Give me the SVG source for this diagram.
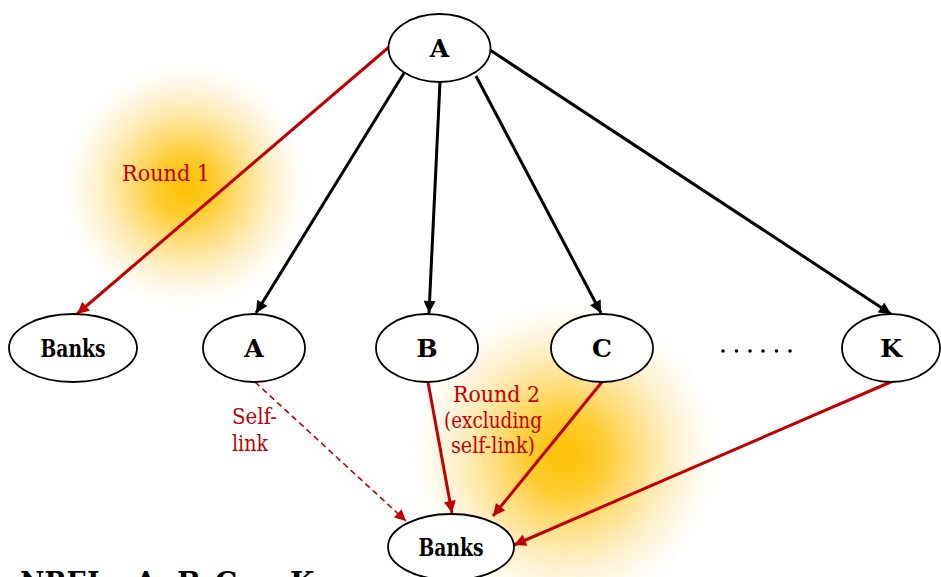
<svg xmlns="http://www.w3.org/2000/svg" width="941" height="577" viewBox="0 0 941 577">
<defs>
<radialGradient id="glow">
<stop offset="0" stop-color="#FFC000" stop-opacity="1"/>
<stop offset="0.25" stop-color="#FFC000" stop-opacity="0.8"/>
<stop offset="0.55" stop-color="#FFC830" stop-opacity="0.45"/>
<stop offset="0.8" stop-color="#FFDA80" stop-opacity="0.2"/>
<stop offset="1" stop-color="#FFFFFF" stop-opacity="0"/>
</radialGradient>
<marker id="ab" viewBox="0 0 10 10" refX="10" refY="5" markerWidth="4.5" markerHeight="4" orient="auto" markerUnits="strokeWidth"><path d="M0,0 L10,5 L0,10 z" fill="#000"/></marker>
<marker id="ar" viewBox="0 0 10 10" refX="10" refY="5" markerWidth="4.5" markerHeight="4" orient="auto" markerUnits="strokeWidth"><path d="M0,0 L10,5 L0,10 z" fill="#C00000"/></marker>
<marker id="ard" viewBox="0 0 10 10" refX="10" refY="5" markerWidth="8" markerHeight="7" orient="auto" markerUnits="strokeWidth"><path d="M0,0 L10,5 L0,10 z" fill="#C00000"/></marker>
</defs>
<style>
.node ellipse{fill:#fff;stroke:#000;stroke-width:1.8}
.node text{font-family:"DejaVu Serif","Liberation Serif",serif;font-weight:bold;font-size:25px;text-anchor:middle;fill:#000}
.lbl{font-family:"DejaVu Serif","Liberation Serif",serif;font-size:23px;fill:#C00000}
.blk{stroke:#000;stroke-width:3;fill:none;marker-end:url(#ab)}
.red{stroke:#C00000;stroke-width:3;fill:none;marker-end:url(#ar)}
.dash{stroke:#C00000;stroke-width:1.6;fill:none;stroke-dasharray:6,4;marker-end:url(#ard)}
</style>
<rect width="941" height="577" fill="#fff"/>
<circle cx="186" cy="186" r="128" fill="url(#glow)"/>
<circle cx="565" cy="455" r="160" fill="url(#glow)"/>
<g id="connectors">
<line class="red" x1="389" y1="47" x2="77" y2="314"/>
<line class="blk" x1="404" y1="73" x2="256" y2="313"/>
<line class="blk" x1="440" y1="82" x2="429" y2="313"/>
<line class="blk" x1="476" y1="76" x2="601" y2="313"/>
<line class="blk" x1="490" y1="50" x2="891" y2="314"/>
<line class="dash" x1="255" y1="382" x2="406" y2="521"/>
<line class="red" x1="428" y1="382" x2="452" y2="513"/>
<line class="red" x1="602" y1="382" x2="493" y2="516"/>
<line class="red" x1="893" y1="381" x2="514" y2="545"/>
</g>
<g id="nodeTopA" class="node"><ellipse cx="439.5" cy="48" rx="51" ry="34"/><text x="439.5" y="57">A</text></g>
<g id="nodeBanks1" class="node"><ellipse cx="73" cy="348" rx="64" ry="34"/><text x="73" y="357" textLength="65" lengthAdjust="spacingAndGlyphs">Banks</text></g>
<g id="nodeA" class="node"><ellipse cx="254" cy="348" rx="51" ry="34"/><text x="254" y="357">A</text></g>
<g id="nodeB" class="node"><ellipse cx="427" cy="348" rx="51" ry="34"/><text x="427" y="357">B</text></g>
<g id="nodeC" class="node"><ellipse cx="602" cy="348" rx="51" ry="34"/><text x="602" y="357">C</text></g>
<g id="nodeK" class="node"><ellipse cx="891" cy="348" rx="49" ry="34"/><text x="891" y="357">K</text></g>
<g id="nodeBanks2" class="node"><ellipse cx="451" cy="547" rx="63" ry="33"/><text x="451" y="556" textLength="65" lengthAdjust="spacingAndGlyphs">Banks</text></g>
<g id="dots" fill="#000">
<circle cx="723" cy="351" r="1.8"/><circle cx="736.5" cy="351" r="1.8"/><circle cx="750" cy="351" r="1.8"/><circle cx="763" cy="351" r="1.8"/><circle cx="776.5" cy="351" r="1.8"/><circle cx="790" cy="351" r="1.8"/>
</g>
<text class="lbl" x="122" y="181" textLength="88" lengthAdjust="spacingAndGlyphs">Round 1</text>
<text class="lbl" x="232" y="424" textLength="45" lengthAdjust="spacingAndGlyphs">Self-</text>
<text class="lbl" x="232" y="451" textLength="36" lengthAdjust="spacingAndGlyphs">link</text>
<text class="lbl" x="453" y="402" textLength="87" lengthAdjust="spacingAndGlyphs">Round 2</text>
<text class="lbl" x="444" y="428" textLength="98" lengthAdjust="spacingAndGlyphs">(excluding</text>
<text class="lbl" x="451" y="453" textLength="84" lengthAdjust="spacingAndGlyphs">self-link)</text>
<text font-family="DejaVu Serif, Liberation Serif, serif" font-weight="bold" font-size="28" fill="#000" y="592"><tspan x="20" textLength="95" lengthAdjust="spacingAndGlyphs">NREL,</tspan><tspan x="135">A,</tspan><tspan x="177">B,</tspan><tspan x="215">C,</tspan><tspan x="250">...,</tspan><tspan x="290">K</tspan></text>
</svg>
